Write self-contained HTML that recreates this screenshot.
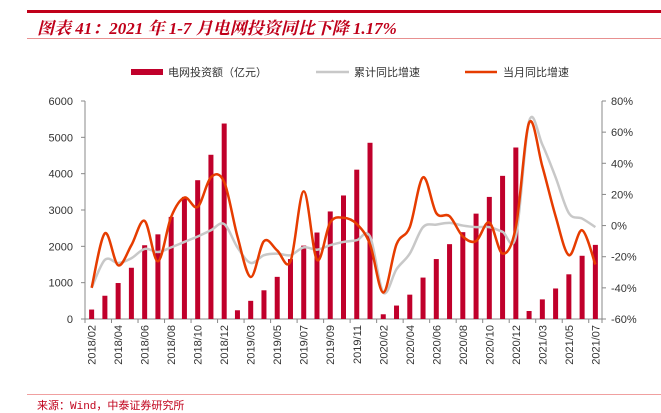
<!DOCTYPE html>
<html><head><meta charset="utf-8">
<style>
body{margin:0;background:#fff;width:661px;height:410px;overflow:hidden;position:relative;font-family:"Liberation Sans","Noto Sans CJK SC",sans-serif;}
#title{position:absolute;left:37px;top:14px;font:italic bold 17px "Liberation Serif","Noto Serif CJK SC",serif;color:#c0001a;white-space:nowrap;}
#src{position:absolute;left:37px;top:397px;font:11px "Liberation Mono","Noto Sans CJK SC",monospace;color:#c0001a;}
</style></head><body>
<div style="position:absolute;left:27px;top:10px;width:634px;height:3px;background:#c0001a"></div>
<div id="title">图表 41：2021 年 1-7 月电网投资同比下降 1.17%</div>
<div style="position:absolute;left:27px;top:38px;width:634px;height:1px;background:#e89090"></div>
<svg id="chart" width="661" height="410" style="position:absolute;left:0;top:0"></svg>
<div style="position:absolute;left:27px;top:394px;width:634px;height:1px;background:#f0a0a0"></div>
<div id="src">来源：Wind，中泰证券研究所</div>
<script>
const categories=["2018/02","2018/03","2018/04","2018/05","2018/06","2018/07","2018/08","2018/09","2018/10","2018/11","2018/12",
"2019/02","2019/03","2019/04","2019/05","2019/06","2019/07","2019/08","2019/09","2019/10","2019/11","2019/12",
"2020/02","2020/03","2020/04","2020/05","2020/06","2020/07","2020/08","2020/09","2020/10","2020/11","2020/12",
"2021/02","2021/03","2021/04","2021/05","2021/06","2021/07"];
const investment=[260,640,990,1410,2030,2330,2810,3360,3820,4520,5380,
240,500,790,1160,1650,2020,2380,2960,3400,4110,4850,
130,370,670,1140,1650,2060,2390,2900,3360,3940,4720,
220,540,840,1230,1740,2040];
const cumulativeYoY=[-40,-22,-24,-21,-15,-17,-14,-10.5,-7,-3,1,
-14,-24,-19,-18,-19,-14,-15.5,-12.6,-10.5,-9.4,-7,
-43,-28,-18,-1,0.6,1.7,0,-1,-1,-4,-7,
67,52,31,8,4.5,-1];
const monthlyYoY=[-40,-5,-25.5,-12.6,3,-23,5.6,18,12,31,28,
-7,-33,-10,-16,-23,22,-22,2,5,1,-12,
-43,-12,-1,31,8,6,-7,-10,2,-18,-1,
66,38,6,-19,-3,-25];
const leftTicks=[0,1000,2000,3000,4000,5000,6000];
const rightTicks=[-60,-40,-20,0,20,40,60,80];
const tickLabelIdx=[0,2,4,6,8,10,12,14,16,18,20,22,24,26,28,30,32,34,36,38];

const svg=document.getElementById('chart');const NS='http://www.w3.org/2000/svg';
const X0=85,X1=602,Y0=319,Y1=101;
const band=(X1-X0)/categories.length;
const xc=i=>X0+band*(i+0.5);
const yL=v=>Y0-(v/6000)*(Y0-Y1);
const yR=v=>Y0-((v+60)/140)*(Y0-Y1);
function mk(t,a,txt){const e=document.createElementNS(NS,t);for(const k in a)e.setAttribute(k,a[k]);if(txt!=null)e.textContent=txt;svg.appendChild(e);return e;}
let ax=mk('line',{x1:X0,y1:Y1,x2:X0,y2:Y0,stroke:'#888'});


ax=mk('line',{x1:X1,y1:Y1,x2:X1,y2:Y0,stroke:'#888'});


ax=mk('line',{x1:X0,y1:Y0,x2:X1,y2:Y0,stroke:'#888'});


leftTicks.forEach(v=>{const y=yL(v);
 mk('line',{x1:X0-4,y1:y,x2:X0,y2:y,stroke:'#888'});
 const t=mk('text',{x:X0-12,y:y+4,'text-anchor':'end','font-size':11,fill:'#333'},String(v));
 
 });
rightTicks.forEach(v=>{const y=yR(v);
 mk('line',{x1:X1,y1:y,x2:X1+4,y2:y,stroke:'#888'});
 const t=mk('text',{x:X1+9,y:y+4,'font-size':11,fill:'#333'},v+'%');
 
 });
tickLabelIdx.forEach(i=>{
 const tx=X0+band*i;mk('line',{x1:tx,y1:Y0,x2:tx,y2:Y0+4,stroke:'#888'});
 const x=xc(i);
 const t=mk('text',{x:0,y:0,'font-size':11,fill:'#333','text-anchor':'end',transform:`translate(${x+4},${Y0+6}) rotate(-90)`},categories[i]);
 
 });
mk('line',{x1:X1,y1:Y0,x2:X1,y2:Y0+4,stroke:'#888'});
investment.forEach((v,i)=>{const b=mk('rect',{x:xc(i)-2.5,y:yL(v),width:5,height:Y0-yL(v),fill:'#c0002b'});
 
 });
function smooth(vals,fy){const p=vals.map((v,i)=>[xc(i),fy(v)]);let d='M'+p[0][0]+','+p[0][1];
 for(let i=0;i<p.length-1;i++){const a=p[i-1]||p[i],b=p[i],c=p[i+1],e=p[i+2]||c;
 d+=` C${b[0]+(c[0]-a[0])/6},${b[1]+(c[1]-a[1])/6} ${c[0]-(e[0]-b[0])/6},${c[1]-(e[1]-b[1])/6} ${c[0]},${c[1]}`;}return d;}
let l=mk('path',{d:smooth(cumulativeYoY,yR),fill:'none',stroke:'#c8c8c8','stroke-width':2.5});


l=mk('path',{d:smooth(monthlyYoY,yR),fill:'none',stroke:'#e63c00','stroke-width':2.5});


const lf={'font-size':11,fill:'#333','font-family':'"Liberation Mono","Noto Sans CJK SC",monospace'};
let g=mk('rect',{x:131,y:69,width:32,height:6,fill:'#c0002b'});


g=mk('text',Object.assign({x:168,y:76},lf),'电网投资额（亿元）');


g=mk('line',{x1:316,y1:72,x2:349,y2:72,stroke:'#c8c8c8','stroke-width':2.5});


g=mk('text',Object.assign({x:354,y:76},lf),'累计同比增速');


g=mk('line',{x1:465,y1:72,x2:497,y2:72,stroke:'#e63c00','stroke-width':2.5});


g=mk('text',Object.assign({x:503,y:76},lf),'当月同比增速');


</script>
</body></html>
